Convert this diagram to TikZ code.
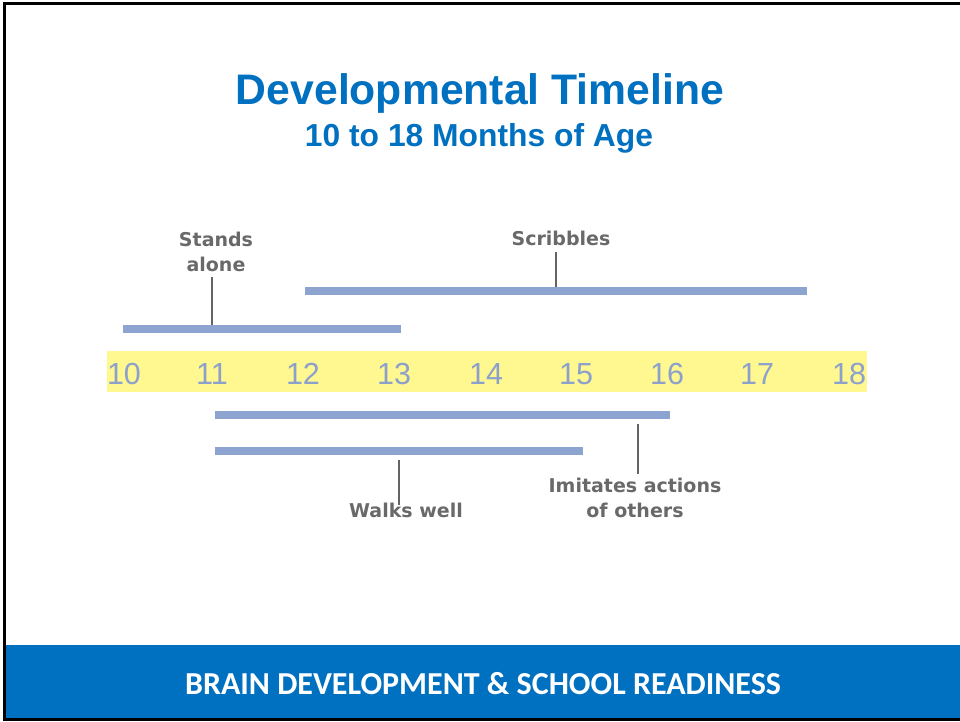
\documentclass[tikz,border=0pt]{standalone}
\usepackage{fontspec}
\setmainfont{Liberation Sans}
\newfontfamily\lblfont{DejaVu Sans}
\newfontfamily\footfont{Carlito}
\definecolor{titleblue}{RGB}{0,112,192}
\definecolor{bandblue}{RGB}{0,112,192}
\definecolor{barblue}{RGB}{141,164,208}
\definecolor{numblue}{RGB}{140,160,204}
\definecolor{axisyellow}{RGB}{255,247,143}
\definecolor{tickgrey}{RGB}{100,100,100}
\definecolor{lblgrey}{RGB}{105,105,105}
\tikzset{
  span/.style={draw=barblue, line width=8pt},
  pointer/.style={draw=tickgrey, line width=2.6pt},
  milestone/.style={font=\lblfont\bfseries\fontsize{19}{25}\selectfont, text=lblgrey, align=center, inner sep=0pt, anchor=base},
  month/.style={font=\fontsize{30.5}{30.5}\selectfont, text=numblue, inner sep=0pt, anchor=base},
}
\begin{document}
\begin{tikzpicture}[x=1pt, y=-1pt]
\useasboundingbox (0,0) rectangle (960,721);
\fill[white] (0,0) rectangle (960,721);

% footer band and frame
\fill[bandblue] (6,645) rectangle (960,718);
\draw[black, line width=3pt] (4.5,721) -- (4.5,3.5) -- (962,3.5);
\draw[black, line width=3pt] (3,719.5) -- (962,719.5);
\node[font=\footfont\bfseries\fontsize{32}{32}\selectfont, text=white, anchor=base, inner sep=0pt] (footer) at (483,694) {BRAIN DEVELOPMENT \& SCHOOL READINESS};

% titles
\node[font=\bfseries\fontsize{42.7}{42.7}\selectfont, text=titleblue, anchor=base, inner sep=0pt] (title) at (480,104) {Developmental Timeline};
\node[font=\bfseries\fontsize{31.8}{31.8}\selectfont, text=titleblue, anchor=base, inner sep=0pt] (subtitle) at (479,146) {10 to 18 Months of Age};

% month axis
\fill[axisyellow] (107,351) rectangle (867,392);
\foreach \m/\x in {10/124,11/212,12/303,13/394,14/486,15/576,16/667,17/757,18/849}
  \node[month] (m\m) at (\x,384) {\m};

% age spans
\coordinate (a1) at (123,329); \coordinate (a2) at (401,329);
\coordinate (b1) at (305,291); \coordinate (b2) at (807,291);
\coordinate (c1) at (215,415); \coordinate (c2) at (670,415);
\coordinate (d1) at (215,451); \coordinate (d2) at (583,451);
\draw[span] (a1) -- (a2);
\draw[span] (b1) -- (b2);
\draw[span] (c1) -- (c2);
\draw[span] (d1) -- (d2);

% milestone labels (base = baseline of the last line)
\node[milestone] (stands) at (216,271) {Stands\\alone};
\node[milestone] (scribbles) at (561,245) {Scribbles};
\node[milestone] (walks) at (406,517) {Walks well};
\node[milestone] (imitates) at (635,517) {Imitates actions\\of others};

% pointers from labels to spans
\coordinate (sa1) at (212,277); \coordinate (sa2) at (212,325);
\coordinate (sc1) at (556,252); \coordinate (sc2) at (556,287);
\coordinate (wk1) at (399,460); \coordinate (wk2) at (399,505);
\coordinate (im1) at (638,424); \coordinate (im2) at (638,474);
\draw[pointer] (sa1) -- (sa2);
\draw[pointer] (sc1) -- (sc2);
\draw[pointer] (wk1) -- (wk2);
\draw[pointer] (im1) -- (im2);
\end{tikzpicture}
\end{document}
